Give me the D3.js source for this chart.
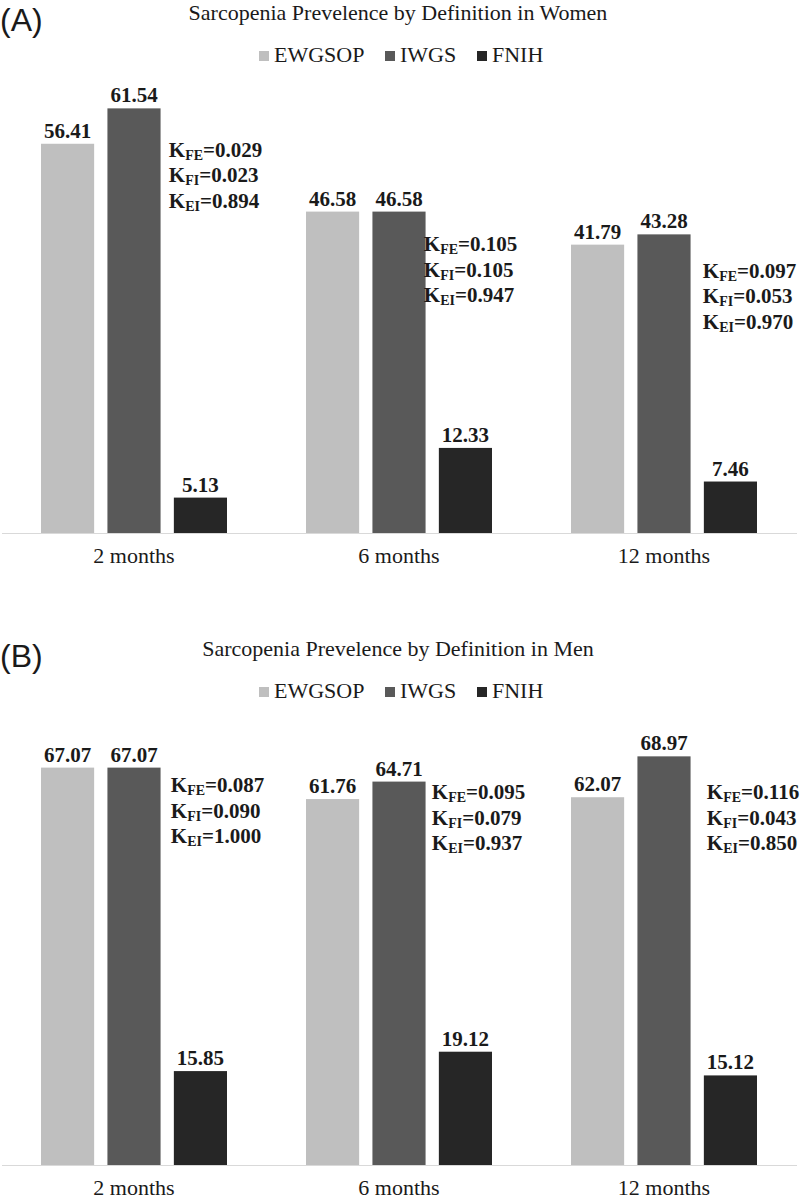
<!DOCTYPE html>
<html>
<head>
<meta charset="utf-8">
<script src="https://cdn.jsdelivr.net/npm/d3@7"></script>
<style>
  body { margin: 0; background: #fff; }
  svg { display: block; }
  text { fill: #1a1a1a; }
</style>
</head>
<body>
<svg id="chart"></svg>
<script>
// data
const months = ["2 months", "6 months", "12 months"];
const series = ["EWGSOP", "IWGS", "FNIH"];
const colours = ["#bfbfbf", "#595959", "#262626"];

const womenEWGSOP = [56.41, 46.58, 41.79];
const womenIWGS = [61.54, 46.58, 43.28];
const womenFNIH = [5.13, 12.33, 7.46];
const womenKFE = ["0.029", "0.105", "0.097"];
const womenKFI = ["0.023", "0.105", "0.053"];
const womenKEI = ["0.894", "0.947", "0.970"];

const menEWGSOP = [67.07, 61.76, 62.07];
const menIWGS = [67.07, 64.71, 68.97];
const menFNIH = [15.85, 19.12, 15.12];
const menKFE = ["0.087", "0.095", "0.116"];
const menKFI = ["0.090", "0.079", "0.043"];
const menKEI = ["1.000", "0.937", "0.850"];

const width = 802;
const height = 1200;
const serif = "'Liberation Serif', 'Times New Roman', serif";

const svg = d3.select("#chart")
  .attr("width", width)
  .attr("height", height);

function drawPanel(opts) {
  const g = svg.append("g");
  const values = [opts.ewgsop, opts.iwgs, opts.fnih];

  // panel letter
  g.append("text")
    .attr("x", 0)
    .attr("y", opts.top + 31)
    .style("font-family", "'Liberation Sans', Arial, sans-serif")
    .style("font-size", "32px")
    .text(opts.letter);

  // title
  g.append("text")
    .attr("x", 398)
    .attr("y", opts.top + 20)
    .attr("text-anchor", "middle")
    .style("font-family", serif)
    .style("font-size", "22px")
    .text(opts.title);

  // legend
  const legendX = [259, 385, 477];
  const legend = g.selectAll(".legend")
    .data(series)
    .join("g")
    .attr("transform", (d, i) => `translate(${legendX[i]}, ${opts.top + 51})`);
  legend.append("rect")
    .attr("width", 10)
    .attr("height", 10)
    .attr("fill", (d, i) => colours[i]);
  legend.append("text")
    .attr("x", 15)
    .attr("y", 11)
    .style("font-family", serif)
    .style("font-size", "22px")
    .text(d => d);

  // scales
  const x0 = d3.scaleBand()
    .domain(months)
    .range([1.5, 796.5])
    .padding(0);
  const x1 = d3.scaleBand()
    .domain(series)
    .range([39.5, 225.5])
    .paddingInner(0.2)
    .paddingOuter(0);
  const y = d3.scaleLinear()
    .domain([0, opts.yMax])
    .range([opts.base, opts.plotTop]);

  // bars
  months.forEach((m, mi) => {
    series.forEach((s, si) => {
      const v = values[si][mi];
      const bx = x0(m) + x1(s);
      g.append("rect")
        .attr("x", bx)
        .attr("y", y(v))
        .attr("width", x1.bandwidth())
        .attr("height", y(0) - y(v))
        .attr("fill", colours[si]);
      g.append("text")
        .attr("x", bx + x1.bandwidth() / 2)
        .attr("y", y(v) - 6)
        .attr("text-anchor", "middle")
        .style("font-family", serif)
        .style("font-size", "21px")
        .style("font-weight", "bold")
        .text(v.toFixed(2));
    });

    // kappa notes
    const kx = x0(m) + x1("FNIH") + opts.noteDx[mi];
    const ky = y(opts.noteAt[mi]);
    const lines = [["FE", opts.kfe[mi]], ["FI", opts.kfi[mi]], ["EI", opts.kei[mi]]];
    lines.forEach((ln, li) => {
      const t = g.append("text")
        .attr("x", kx)
        .attr("y", ky + li * 25.5)
        .style("font-family", serif)
        .style("font-size", "21px")
        .style("font-weight", "bold");
      t.append("tspan").text("K");
      t.append("tspan")
        .attr("dy", 3)
        .style("font-size", "14px")
        .text(ln[0]);
      t.append("tspan")
        .attr("dy", -3)
        .text("=" + ln[1]);
    });
  });

  // x axis
  const axis = g.append("g")
    .attr("transform", `translate(0, ${opts.base})`)
    .call(d3.axisBottom(x0).tickSize(0).tickSizeOuter(0).tickPadding(14));
  axis.select(".domain").attr("stroke", "#d9d9d9");
  axis.selectAll("text")
    .style("font-family", serif)
    .style("font-size", "22px")
    .attr("fill", "#1a1a1a");
}

drawPanel({
  letter: "(A)",
  title: "Sarcopenia Prevelence by Definition in Women",
  top: 0,
  base: 533,
  plotTop: 50,
  yMax: 70,
  ewgsop: womenEWGSOP,
  iwgs: womenIWGS,
  fnih: womenFNIH,
  kfe: womenKFE,
  kfi: womenKFI,
  kei: womenKEI,
  noteAt: [54.5, 40.8, 37.0],
  noteDx: [-5, -15, -1]
});

drawPanel({
  letter: "(B)",
  title: "Sarcopenia Prevelence by Definition in Men",
  top: 636,
  base: 1165,
  plotTop: 691,
  yMax: 80,
  ewgsop: menEWGSOP,
  iwgs: menIWGS,
  fnih: menFNIH,
  kfe: menKFE,
  kfi: menKFI,
  kei: menKEI,
  noteAt: [62.9, 61.7, 61.7],
  noteDx: [-3, -7, 3]
});
</script>
</body>
</html>
